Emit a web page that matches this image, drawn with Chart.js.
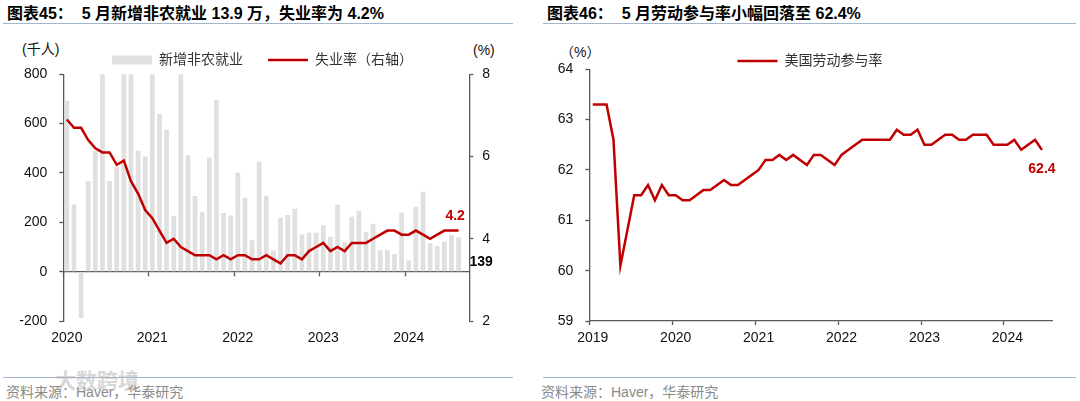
<!DOCTYPE html>
<html><head><meta charset="utf-8">
<script src="https://cdn.jsdelivr.net/npm/chart.js@4.4.1/dist/chart.umd.min.js"></script>
<style>
html,body{margin:0;padding:0;background:#fff;width:1080px;height:401px;overflow:hidden;font-family:"Liberation Sans","Noto Sans CJK SC",sans-serif;}
.abs{position:absolute;white-space:pre;}
.title{font-weight:bold;font-size:16px;color:#000;top:4px;line-height:20px;}
.rule{position:absolute;height:0;border-top:1.5px solid #A3B6CC;}
.unit{font-size:14px;color:#111;line-height:16px;}
.src{font-size:14px;color:#8a8a8a;line-height:16px;top:384px;}
.wm{font-size:21px;color:rgba(175,175,175,0.5);line-height:24px;top:369px;left:55px;font-weight:bold;}
.wrap{position:absolute;top:28px;width:540px;height:323px;}
</style></head><body>
<div class="abs title" style="left:7px">图表45：  5 月新增非农就业 13.9 万，失业率为 4.2%</div>
<div class="rule" style="left:3px;top:23px;width:510px"></div>
<div class="abs title" style="left:547px">图表46：  5 月劳动参与率小幅回落至 62.4%</div>
<div class="rule" style="left:543px;top:23px;width:533px"></div>

<div class="abs unit" style="left:22px;top:41px">(千人)</div>
<div class="abs unit" style="left:473px;top:42px">(%)</div>
<div class="abs unit" style="left:560px;top:44px">（%）</div>

<div class="wrap" style="left:0px"><canvas id="c1" width="540" height="323"></canvas></div>
<div class="wrap" style="left:540px"><canvas id="c2" width="540" height="323"></canvas></div>

<div class="rule" style="left:3px;top:377px;width:510px"></div>
<div class="rule" style="left:543px;top:377px;width:533px"></div>
<div class="abs src" style="left:6px">资料来源：Haver，华泰研究</div>
<div class="abs src" style="left:541px">资料来源：Haver，华泰研究</div>
<div class="abs wm">大数跨境</div>

<script>
// ---------- data ----------
function monthLabels(y, m, n) {
  const out = [];
  for (let k = 0; k < n; k++) {
    const mm = (m - 1 + k) % 12 + 1, yy = y + Math.floor((m - 1 + k) / 12);
    out.push(yy + '-' + String(mm).padStart(2, '0'));
  }
  return out;
}
const nfpMonths = monthLabels(2020, 1, 57);
const nfpValues = [693, 272, -188, 367, 490, 900, 367, 423, 950, 1050,
  490, 467, 850, 639, 575, 227, 880, 473, 307, 243,
  463, 697, 238, 228, 401, 300, 127, 446, 308, 86,
  219, 230, 255, 151, 158, 158, 188, 142, 271, 119,
  223, 247, 162, 194, 88, 88, 72, 240, 45, 263,
  324, 115, 103, 122, 149, 139, null];
const urValues = [6.9, 6.7, 6.7, 6.4, 6.2, 6.1, 6.1, 5.8, 5.9, 5.4,
  5.1, 4.7, 4.5, 4.2, 3.9, 4.0, 3.8, 3.7, 3.6, 3.6,
  3.6, 3.5, 3.6, 3.5, 3.6, 3.6, 3.5, 3.5, 3.6, 3.5,
  3.4, 3.6, 3.6, 3.5, 3.7, 3.8, 3.9, 3.7, 3.8, 3.7,
  3.9, 3.9, 3.9, 4.0, 4.1, 4.2, 4.2, 4.1, 4.1, 4.2,
  4.1, 4.0, 4.1, 4.2, 4.2, 4.2, null];
const lfprMonths = monthLabels(2019, 1, 67);
const lfprValues = [63.3, 63.3, 63.3, 62.6, 60.1, 60.8, 61.5, 61.5, 61.7, 61.4,
  61.7, 61.5, 61.5, 61.4, 61.4, 61.5, 61.6, 61.6, 61.7, 61.8,
  61.7, 61.7, 61.8, 61.9, 62.0, 62.2, 62.2, 62.3, 62.2, 62.3,
  62.2, 62.1, 62.3, 62.3, 62.2, 62.1, 62.3, 62.4, 62.5, 62.6,
  62.6, 62.6, 62.6, 62.6, 62.8, 62.7, 62.7, 62.8, 62.5, 62.5,
  62.6, 62.7, 62.7, 62.6, 62.6, 62.7, 62.7, 62.7, 62.5, 62.5,
  62.5, 62.6, 62.4, 62.5, 62.6, 62.4, null];
const seriesNames = ['新增非农就业', '失业率（右轴）', '美国劳动参与率'];

// ---------- style ----------
const RED = '#C00000', GRAY = '#E0E0E0', AXIS = '#595959';
const FONT = '"Liberation Sans", "Noto Sans CJK SC", sans-serif';
Chart.defaults.font.family = FONT;
Chart.defaults.font.size = 14;
Chart.defaults.color = '#111';
Chart.defaults.animation = false;

function yearTick(value) {
  const l = this.getLabelForValue(value);
  return l.endsWith('-01') ? l.slice(0, 4) : '';
}
const yearTickColor = (c) => (c.index % 12 === 0 ? AXIS : 'rgba(0,0,0,0)');

function legendItems(chart) {
  const items = Chart.defaults.plugins.legend.labels.generateLabels(chart);
  items.forEach(it => {
    const ds = chart.data.datasets[it.datasetIndex];
    if (ds.type === 'line' || chart.config.type === 'line' && !ds.type) {
      it.pointStyle = 'line'; it.strokeStyle = RED; it.lineWidth = 2.5; it.fillStyle = RED;
    } else {
      it.pointStyle = 'rect'; it.fillStyle = GRAY; it.strokeStyle = GRAY; it.lineWidth = 0;
    }
  });
  return items;
}

const endLabels = {
  id: 'endLabels',
  afterDatasetsDraw(chart, args, opts) {
    const ctx = chart.ctx;
    (opts.items || []).forEach(it => {
      const data = chart.data.datasets[it.dataset].data;
      let i = data.length - 1;
      while (i >= 0 && data[i] == null) i--;
      const el = chart.getDatasetMeta(it.dataset).data[i];
      const y0 = it.fromBase ? el.base : el.y;
      ctx.save();
      ctx.font = 'bold 14px ' + FONT;
      ctx.fillStyle = it.color;
      ctx.textAlign = 'center';
      ctx.textBaseline = 'middle';
      ctx.fillText(it.digits != null ? data[i].toFixed(it.digits) : String(data[i]), el.x + it.dx, y0 + it.dy);
      ctx.restore();
    });
  }
};

const legendFont = { size: 14, family: FONT };

// ---------- chart 1 ----------
new Chart(document.getElementById('c1'), {
  type: 'bar',
  data: {
    labels: nfpMonths,
    datasets: [
      { type: 'bar', label: seriesNames[0], data: nfpValues, backgroundColor: GRAY,
        barPercentage: 0.66, categoryPercentage: 1, xAxisID: 'x', yAxisID: 'y', order: 2, clip: 0 },
      { type: 'line', label: seriesNames[1], data: urValues, borderColor: RED, backgroundColor: RED,
        borderWidth: 2.5, pointRadius: 0, tension: 0, xAxisID: 'x', yAxisID: 'y1', order: 1 }
    ]
  },
  options: {
    responsive: false,
    layout: { padding: { left: 0, right: 15, top: 0, bottom: 0 } },
    plugins: {
      tooltip: { enabled: false },
      legend: {
        position: 'top', align: 'center', maxHeight: 46.3,
        labels: { usePointStyle: true, pointStyleWidth: 40, boxHeight: 9, padding: 25,
          font: legendFont, color: '#333', generateLabels: legendItems,
          sort: (a, b) => a.datasetIndex - b.datasetIndex }
      },
      endLabels: { items: [
        { dataset: 1, color: RED, dx: -3.5, dy: -14.5, digits: 1 },
        { dataset: 0, color: '#000', dx: 22.5, dy: -9, fromBase: true }
      ] }
    },
    scales: {
      x: {
        type: 'category', position: 'bottom', offset: true,
        grid: { display: false, drawTicks: false }, border: { display: false },
        ticks: { autoSkip: false, maxRotation: 0, padding: 9, callback: yearTick },
        afterFit: s => { s.height = 30; }
      },
      xz: {
        type: 'category', axis: 'x', position: { y: 0 }, offset: true,
        ticks: { display: false },
        grid: { display: true, drawOnChartArea: false, drawTicks: true, tickLength: 4, offset: true,
          color: 'rgba(0,0,0,0)', tickColor: yearTickColor, tickWidth: 1.3 },
        border: { display: true, color: AXIS, width: 1.3 }
      },
      y: {
        type: 'linear', position: 'left', min: -200, max: 800,
        ticks: { stepSize: 200, padding: 12 },
        grid: { drawOnChartArea: false, drawTicks: true, tickLength: 4, color: AXIS, tickWidth: 1.3 },
        border: { display: true, color: AXIS, width: 1.3 },
        afterFit: s => { s.width = 63.3; }
      },
      y1: {
        type: 'linear', position: 'right', min: 2, max: 8,
        ticks: { stepSize: 2, padding: 9 },
        grid: { drawOnChartArea: false, drawTicks: true, tickLength: 4, color: AXIS, tickWidth: 1.3 },
        border: { display: true, color: AXIS, width: 1.3 },
        afterFit: s => { s.width = 55.7; }
      }
    }
  },
  plugins: [endLabels]
});

// ---------- chart 2 ----------
new Chart(document.getElementById('c2'), {
  type: 'line',
  data: {
    labels: lfprMonths,
    datasets: [
      { label: seriesNames[2], data: lfprValues, borderColor: RED, backgroundColor: RED,
        borderWidth: 2.5, pointRadius: 0, tension: 0 }
    ]
  },
  options: {
    responsive: false,
    layout: { padding: 0 },
    plugins: {
      tooltip: { enabled: false },
      legend: {
        position: 'top', align: 'center', maxHeight: 41.3,
        labels: { usePointStyle: true, pointStyleWidth: 40, boxHeight: 9, padding: 26,
          font: legendFont, color: '#333', generateLabels: legendItems }
      },
      endLabels: { items: [ { dataset: 0, color: RED, dx: 0, dy: 19, digits: 1 } ] }
    },
    scales: {
      x: {
        type: 'category', position: 'bottom', offset: true,
        ticks: { autoSkip: false, maxRotation: 0, padding: 5, callback: yearTick },
        grid: { display: true, drawOnChartArea: false, drawTicks: true, tickLength: 4, offset: true,
          color: 'rgba(0,0,0,0)', tickColor: yearTickColor, tickWidth: 1.3 },
        border: { display: true, color: AXIS, width: 1.3 },
        afterFit: s => { s.height = 30; }
      },
      y: {
        type: 'linear', position: 'left', min: 59, max: 64,
        ticks: { stepSize: 1, padding: 12 },
        grid: { drawOnChartArea: false, drawTicks: true, tickLength: 4, color: AXIS, tickWidth: 1.3 },
        border: { display: true, color: AXIS, width: 1.3 },
        afterFit: s => { s.width = 49.3; }
      },
      ySpacer: {
        type: 'linear', axis: 'y', position: 'right', display: true,
        grid: { display: false, drawTicks: false }, border: { display: false }, ticks: { display: false },
        afterFit: s => { s.width = 27.7; }
      }
    }
  },
  plugins: [endLabels]
});
</script>
</body></html>
